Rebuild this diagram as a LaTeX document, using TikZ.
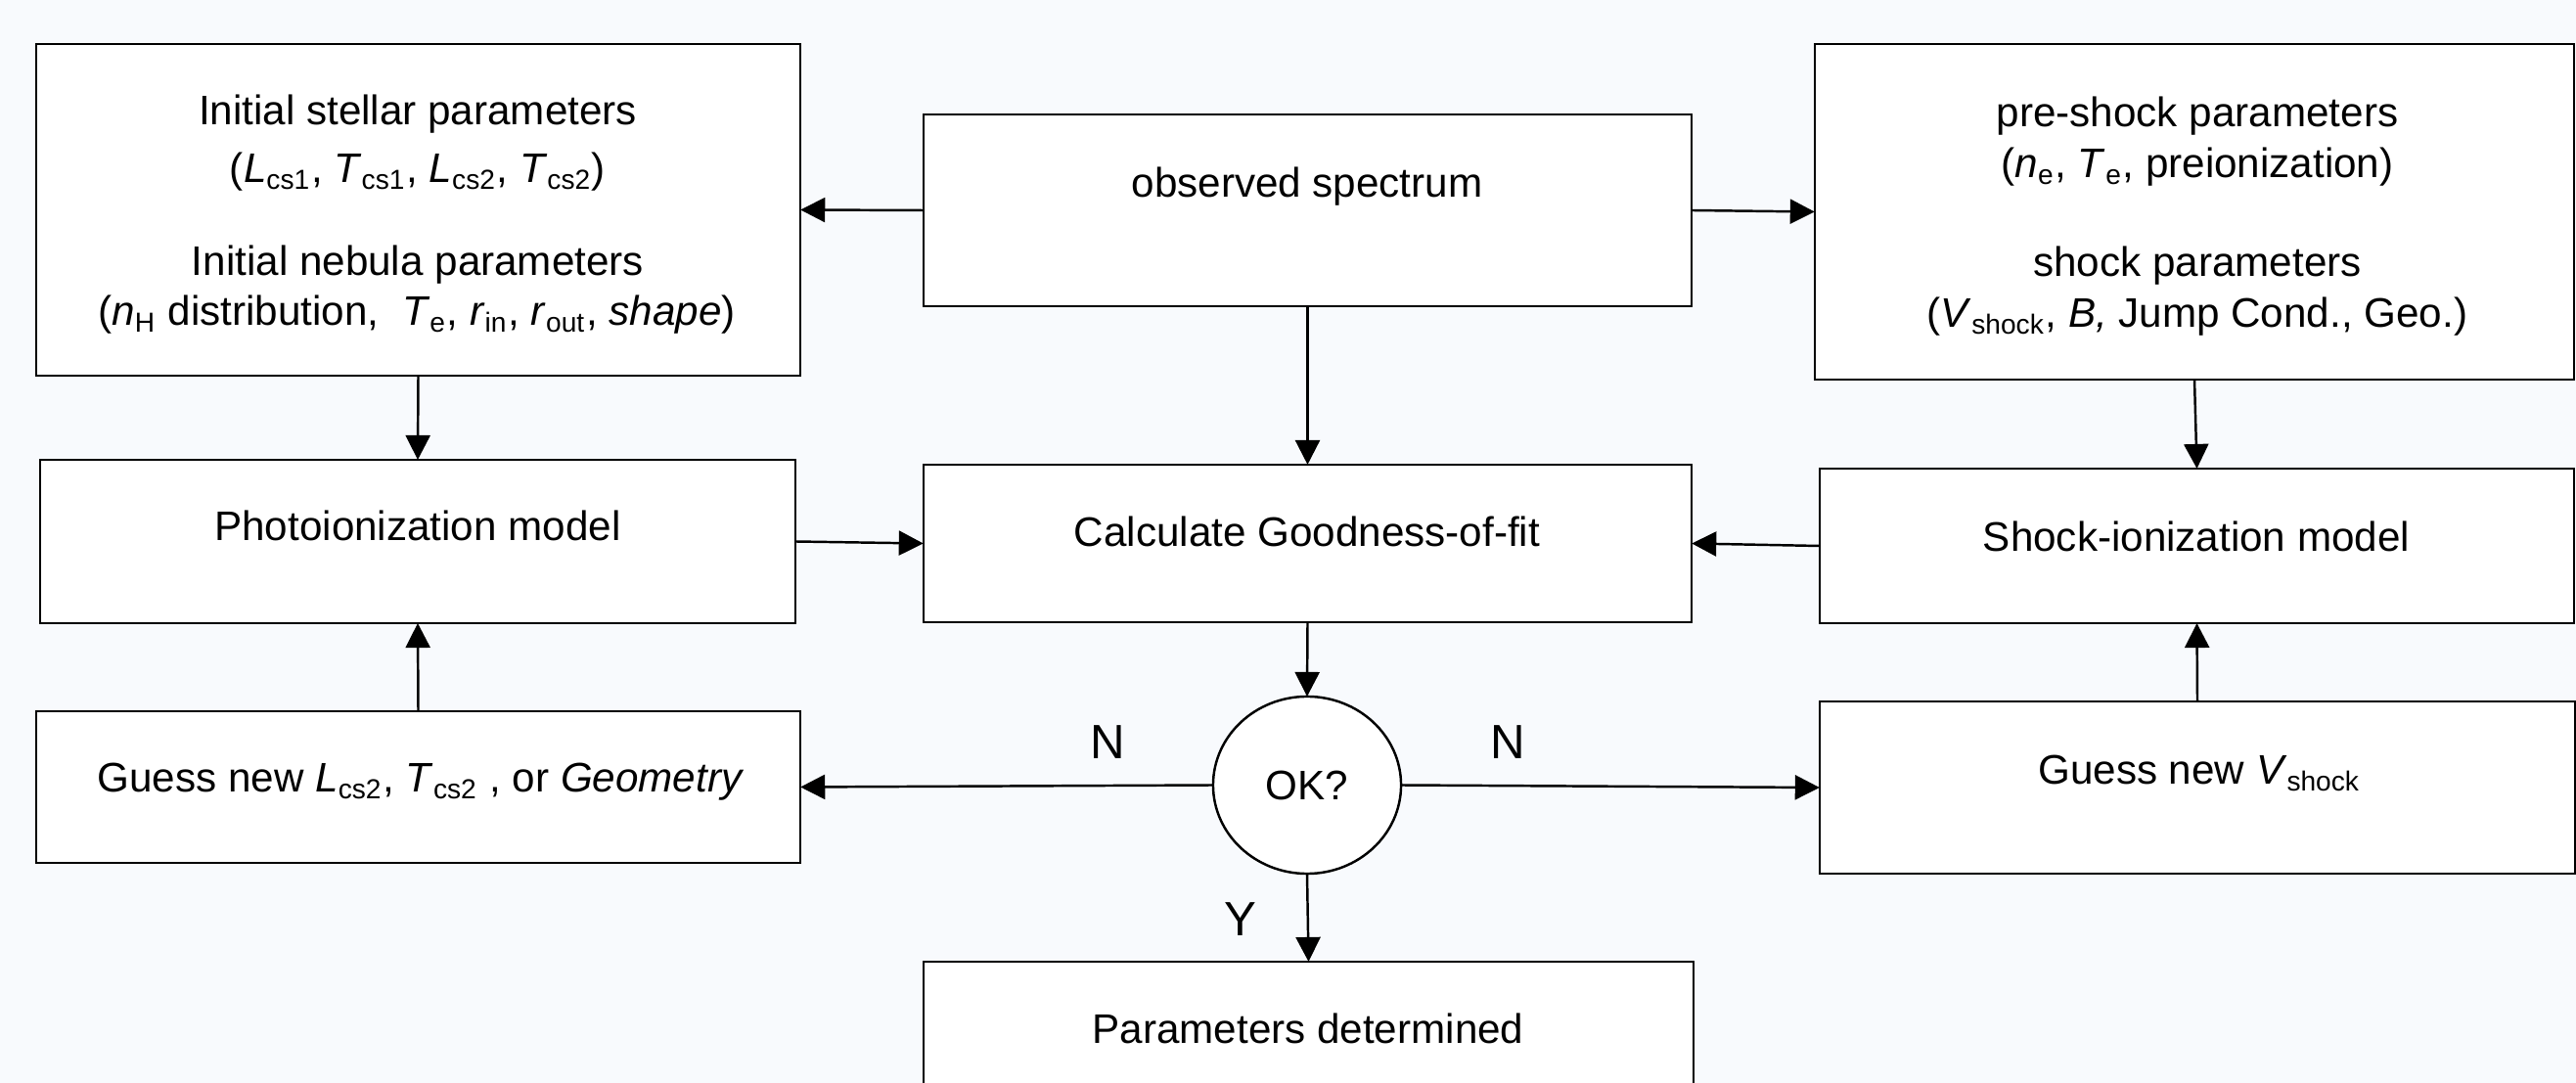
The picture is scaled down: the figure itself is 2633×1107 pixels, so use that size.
\documentclass[tikz,border=0pt]{standalone}
\usepackage{fontspec}
\setmainfont{Liberation Sans}
\usetikzlibrary{arrows.meta,shapes.geometric}
\definecolor{bgc}{RGB}{248,250,253}
\begin{document}
\begin{tikzpicture}[x=0.01cm,y=-0.01cm,
  box/.style={draw=black, fill=white, line width=0.7pt, inner sep=0pt, outer sep=0pt, rectangle},
  okshape/.style={draw=black, fill=white, line width=0.7pt, inner sep=0pt, outer sep=0pt, ellipse,
    minimum width=1.92cm, minimum height=1.81cm, font=\fontsize{12}{14}\selectfont},
  txt/.style={anchor=base, inner sep=0pt, font=\fontsize{12}{14}\selectfont},
  lbl/.style={inner sep=0pt, font=\fontsize{14}{16}\selectfont},
  arr/.style={line width=0.7pt, -{Triangle[length=0.25cm,width=0.25cm]}}]
\useasboundingbox (0,0) rectangle (2633,1107);
\fill[bgc] (0,0) rectangle (2633,1107);
\begin{scope}
\clip (0,0) rectangle (2633,1107);
% boxes
\node[box, minimum width=7.81cm, minimum height=3.39cm] (init) at (427.5,214.5) {};
\node[box, minimum width=7.85cm, minimum height=1.96cm] (obs) at (1336.5,215) {};
\node[box, minimum width=7.76cm, minimum height=3.43cm] (pre) at (2243,216.5) {};
\node[box, minimum width=7.72cm, minimum height=1.67cm] (photo) at (427,553.5) {};
\node[box, minimum width=7.85cm, minimum height=1.61cm] (calc) at (1336.5,555.5) {};
\node[box, minimum width=7.71cm, minimum height=1.58cm] (shock) at (2245.5,558) {};
\node[box, minimum width=7.81cm, minimum height=1.55cm] (guessL) at (427.5,804.5) {};
\node[okshape] (ok) at (1336,802.5) {OK?};
\node[box, minimum width=7.72cm, minimum height=1.76cm] (guessV) at (2246,805) {};
\node[box, minimum width=7.87cm, minimum height=1.60cm] (params) at (1337.5,1063) {};
% texts
\node[txt] (t1) at (427,128) {Initial stellar parameters};
\node[txt] (t2) at (427,187) {(\textit{L}\textsubscript{cs1}, \textit{T}\textsubscript{cs1}, \textit{L}\textsubscript{cs2}, \textit{T}\textsubscript{cs2})};
\node[txt] (t3) at (427,282) {Initial nebula parameters};
\node[txt] (t4) at (426,333) {(\textit{n}\textsubscript{H} distribution,\ \ \textit{T}\textsubscript{e}, \textit{r}\textsubscript{in}, \textit{r}\textsubscript{out}, \textit{shape})};
\node[txt] (t5) at (1336,202) {observed spectrum};
\node[txt] (t6) at (2246,130) {pre-shock parameters};
\node[txt] (t7) at (2246,182) {(\textit{n}\textsubscript{e}, \textit{T}\textsubscript{e}, preionization)};
\node[txt] (t8) at (2246,283) {shock parameters};
\node[txt] (t9) at (2246,335) {(\textit{V}\textsubscript{shock}, \textit{B,} Jump Cond., Geo.)};
\node[txt] (t10) at (427,553) {Photoionization model};
\node[txt] (t11) at (1336,559) {Calculate Goodness-of-fit};
\node[txt] (t12) at (2245,564) {Shock-ionization model};
\node[txt] (t13) at (430,810) {Guess new \textit{L}\textsubscript{cs2}, \textit{T}\textsubscript{cs2} , or \textit{Geometry}};
\node[txt] (t14) at (2248,802) {Guess new \textit{V}\textsubscript{shock}};
\node[txt] (t15) at (1337,1067) {Parameters determined};
% labels
\node[lbl] (nL) at (1132,759) {N};
\node[lbl] (nR) at (1541,759) {N};
\node[lbl] (yl) at (1268,940) {Y};
% arrows
\draw[arr] (obs.west) -- (init.east);
\draw[arr] (obs.east) -- (pre.west);
\draw[arr] (obs.south) -- (calc.north);
\draw[arr] (init.south) -- (photo.north);
\draw[arr] (pre.south) -- (shock.north);
\draw[arr] (photo.east) -- (calc.west);
\draw[arr] (shock.west) -- (calc.east);
\draw[arr] (calc.south) -- (ok.north);
\draw[arr] (ok.west) -- (guessL.east);
\draw[arr] (ok.east) -- (guessV.west);
\draw[arr] (guessL.north) -- (photo.south);
\draw[arr] (guessV.north) -- (shock.south);
\draw[arr] (ok.south) -- (params.north);
\end{scope}
\end{tikzpicture}
\end{document}
